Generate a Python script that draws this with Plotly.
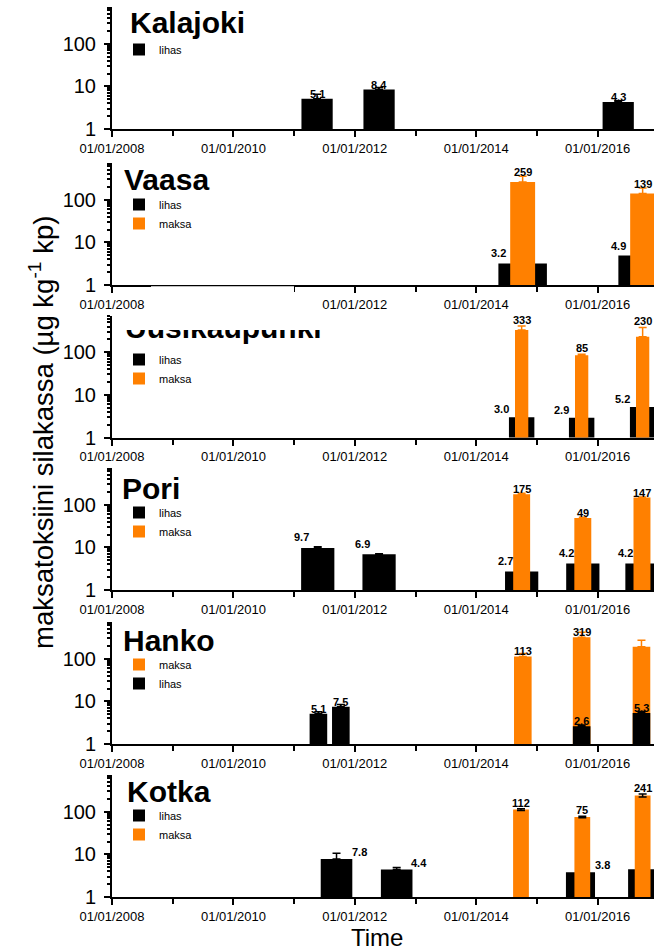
import numpy as np
import pandas as pd
import plotly.graph_objects as go

W, H = 654, 951
BLACK = "#000000"
ORANGE = "#FF8000"
FONT = "Liberation Sans, Arial, sans-serif"

# ------------------------------------------------------------------ data
site_names = ["Kalajoki", "Vaasa", "Uusikaupunki", "Pori", "Hanko", "Kotka"]
x_tick_start = "2008-01-01"

kalajoki_lihas_dates = ["2011-05-19", "2012-05-26", "2016-05-04"]
kalajoki_lihas = [5.1, 8.4, 4.3]
kalajoki_lihas_err = [1.4, 1.0, 0.3]
kalajoki_lihas_labelled = [True, True, True]

vaasa_lihas_dates = ["2014-10-07", "2016-09-28"]
vaasa_lihas = [3.2, 4.9]
vaasa_lihas_err = [0.0, 0.0]
vaasa_lihas_labelled = [True, True]
vaasa_maksa_dates = ["2014-10-07", "2016-09-28"]
vaasa_maksa = [259, 139]
vaasa_maksa_err = [95, 50]
vaasa_maksa_labelled = [True, True]

uusi_lihas_dates = ["2014-10-01", "2015-09-27", "2016-09-28"]
uusi_lihas = [3.0, 2.9, 5.2]
uusi_lihas_err = [0.0, 0.0, 0.0]
uusi_lihas_labelled = [True, True, True]
uusi_maksa_dates = ["2014-10-01", "2015-09-27", "2016-09-28"]
uusi_maksa = [333, 85, 230]
uusi_maksa_err = [80, 4, 150]
uusi_maksa_labelled = [True, True, True]

pori_lihas_dates = ["2011-05-23", "2012-05-26", "2014-10-01", "2015-10-04", "2016-09-24"]
pori_lihas = [9.7, 6.9, 2.7, 4.2, 4.2]
pori_lihas_err = [0.6, 0.2, 0.0, 0.0, 0.0]
pori_lihas_labelled = [True, True, True, True, True]
pori_maksa_dates = ["2014-10-01", "2015-10-04", "2016-09-24"]
pori_maksa = [175, 49, 147]
pori_maksa_err = [10, 2, 5]
pori_maksa_labelled = [True, True, True]

hanko_maksa_dates = ["2014-10-08", "2015-09-27", "2016-09-21"]
hanko_maksa = [113, 319, 190]
hanko_maksa_err = [20, 100, 80]
hanko_maksa_labelled = [True, True, False]
hanko_lihas_dates = ["2011-05-27", "2011-10-09", "2015-09-27", "2016-09-21"]
hanko_lihas = [5.1, 7.5, 2.6, 5.3]
hanko_lihas_err = [0.6, 0.9, 0.2, 0.5]
hanko_lihas_labelled = [True, True, True, True]

kotka_lihas_dates = ["2011-09-13", "2012-09-09", "2015-09-20", "2016-09-28"]
kotka_lihas = [7.8, 4.4, 3.8, 4.5]
kotka_lihas_err = [2.8, 0.5, 0.0, 0.0]
kotka_lihas_labelled = [True, True, True, False]
kotka_maksa_dates = ["2014-09-27", "2015-10-01", "2016-09-28"]
kotka_maksa = [112, 75, 241]
kotka_maksa_err = [5, 3, 20]
kotka_maksa_labelled = [True, True, True]

y_title = "maksatoksiini silakassa (µg kg<sup>-1</sup> kp)"
x_title = "Time"

# ------------------------------------------------------------------ panel structure
panels = [
    [("lihas", kalajoki_lihas_dates, kalajoki_lihas, kalajoki_lihas_err, kalajoki_lihas_labelled)],
    [("lihas", vaasa_lihas_dates, vaasa_lihas, vaasa_lihas_err, vaasa_lihas_labelled),
     ("maksa", vaasa_maksa_dates, vaasa_maksa, vaasa_maksa_err, vaasa_maksa_labelled)],
    [("lihas", uusi_lihas_dates, uusi_lihas, uusi_lihas_err, uusi_lihas_labelled),
     ("maksa", uusi_maksa_dates, uusi_maksa, uusi_maksa_err, uusi_maksa_labelled)],
    [("lihas", pori_lihas_dates, pori_lihas, pori_lihas_err, pori_lihas_labelled),
     ("maksa", pori_maksa_dates, pori_maksa, pori_maksa_err, pori_maksa_labelled)],
    [("maksa", hanko_maksa_dates, hanko_maksa, hanko_maksa_err, hanko_maksa_labelled),
     ("lihas", hanko_lihas_dates, hanko_lihas, hanko_lihas_err, hanko_lihas_labelled)],
    [("lihas", kotka_lihas_dates, kotka_lihas, kotka_lihas_err, kotka_lihas_labelled),
     ("maksa", kotka_maksa_dates, kotka_maksa, kotka_maksa_err, kotka_maksa_labelled)],
]

# ------------------------------------------------------------------ styles / layout
PX_PER_YEAR = 60.7
X0_PX = 112
AXIS_PX = [129, 285, 437.5, 590, 744, 897]     # pixel row of y=1 line
PANEL_H = 122
YTOP = 2.86
LEGEND_CENTER_PX = [50, 205, 360, 513, 665, 816]
LEGEND_LEFT_PX = 119
TITLE_BASE_PX = [35, 192, 341, 500, 652, 803]
TITLE_LEFT_PX = [128, 122, 125, 120, 121, 125]
TITLE_CUT_PX = 330       # Uusikaupunki title is cut above this row in the source image

styles = [
    {"lihas": dict(w=[188], mode="center", ex=0, dy=4.5, cap=False, ecol=BLACK, sym=False)},
    {"lihas": dict(w=[292], mode="left", ex=0, dy=10, cap=False, ecol=BLACK, sym=False),
     "maksa": dict(w=[150], mode="center", ex=0, dy=4, cap=True, ecol=ORANGE, sym=False)},
    {"lihas": dict(w=[153], mode="left", ex=-7, dy=8, cap=False, ecol=BLACK, sym=False),
     "maksa": dict(w=[80], mode="center", ex=0, dy=6, cap=True, ecol=ORANGE, sym=False)},
    {"lihas": dict(w=[200], mode="left", ex=0, dy=10.5, cap=False, ecol=BLACK, sym=False),
     "maksa": dict(w=[102], mode="center", ex=0, dy=5, cap=False, ecol=ORANGE, sym=False)},
    {"maksa": dict(w=[106], mode="center", ex=0, dy=5, cap=False, ecol=ORANGE, sym=False),
     "lihas": dict(w=[106], mode="center", ex=0, dy=5, cap=False, ecol=BLACK, sym=False)},
    {"lihas": dict(w=[190, 190, 175, 175], mode="right", ex=7, dy=7, cap=False, ecol=BLACK, sym=False),
     "maksa": dict(w=[95], mode="center", ex=0, dy=7, cap=False, ecol=BLACK, sym=True)},
]
colors = {"lihas": BLACK, "maksa": ORANGE}

DAY_MS = 86400000
x_start = pd.Timestamp(x_tick_start)
x_end = x_start + pd.Timedelta(days=(W - X0_PX) / PX_PER_YEAR * 365.25)

fig = go.Figure()
annotations = []
layout = dict(
    template="none",
    width=W, height=H, margin=dict(l=0, r=0, t=0, b=0, autoexpand=False),
    paper_bgcolor="white", plot_bgcolor="rgba(0,0,0,0)",
    barmode="overlay", showlegend=True,
    font=dict(family=FONT, color=BLACK),
)

for i, series in enumerate(panels):
    ax = "" if i == 0 else str(i + 1)
    lg = "legend" if i == 0 else f"legend{i + 1}"
    y_bot = 1 - AXIS_PX[i] / H
    y_top = 1 - (AXIS_PX[i] - PANEL_H) / H
    for name, dates, vals, errs, labelled in series:
        st = styles[i][name]
        wd = st["w"] * len(vals) if len(st["w"]) == 1 else st["w"]
        fig.add_trace(go.Bar(
            x=pd.to_datetime(dates), y=vals, width=[w * DAY_MS for w in wd],
            name=name, marker=dict(color=colors[name], line=dict(width=0)),
            error_y=dict(type="data", array=errs,
                         arrayminus=errs if st["sym"] else [0] * len(errs),
                         symmetric=st["sym"], color=st["ecol"], thickness=1.5, width=4),
            xaxis="x" + ax, yaxis="y" + ax, legend=lg, showlegend=True,
        ))
        for dt, v, e, w, lab in zip(dates, vals, errs, wd, labelled):
            if not lab:
                continue
            half = w / 365.25 * PX_PER_YEAR / 2
            if st["mode"] == "left":
                dx = -half + st["ex"]
            elif st["mode"] == "right":
                dx = half + st["ex"]
            else:
                dx = st["ex"]
            anchor = v + e if st["cap"] else v
            txt = f"{v:.1f}" if name == "lihas" else f"{v:.0f}"
            annotations.append(dict(
                x=dt, y=np.log10(anchor), xref="x" + ax, yref="y" + ax,
                text=f"<b>{txt}</b>", showarrow=False, xanchor="center", yanchor="middle",
                xshift=dx, yshift=st["dy"], font=dict(size=11, family=FONT, color=BLACK)))

    layout["xaxis" + ax] = dict(
        type="date", domain=[X0_PX / W, 1], anchor="y" + ax, automargin=False,
        range=[x_start, x_end], tick0=x_tick_start, dtick="M24", tickformat="%d/%m/%Y",
        ticks="outside", ticklen=6, tickwidth=2, tickcolor=BLACK,
        minor=dict(dtick="M12", tick0=x_tick_start, ticks="outside", ticklen=5, tickwidth=2,
                   tickcolor=BLACK, showgrid=False),
        showline=True, linewidth=2, linecolor=BLACK, showgrid=False, zeroline=False,
        tickfont=dict(size=13, family=FONT, color=BLACK), fixedrange=True,
    )
    layout["yaxis" + ax] = dict(
        type="log", domain=[y_bot, y_top], anchor="x" + ax, range=[0, YTOP], automargin=False,
        tickmode="array", tickvals=[1, 10, 100], ticktext=["1", "10", "100"],
        ticks="outside", ticklen=6, tickwidth=2, tickcolor=BLACK, ticklabelstandoff=4,
        minor=dict(dtick="D1", ticks="outside", ticklen=3, tickwidth=1.5, tickcolor=BLACK,
                   showgrid=False),
        showline=True, linewidth=2, linecolor=BLACK, showgrid=False, zeroline=False,
        tickfont=dict(size=20, family=FONT, color=BLACK), fixedrange=True,
    )
    layout[lg] = dict(
        x=LEGEND_LEFT_PX / W, y=1 - (LEGEND_CENTER_PX[i] - 15) / H,
        xanchor="left", yanchor="top", bgcolor="rgba(0,0,0,0)", borderwidth=0,
        font=dict(size=11, family=FONT, color=BLACK), tracegroupgap=0,
        itemclick=False, itemdoubleclick=False,
    )
    if site_names[i] != "Uusikaupunki":
        annotations.append(dict(
            x=TITLE_LEFT_PX[i] / W, y=1 - (TITLE_BASE_PX[i] - 12) / H, xref="paper", yref="paper",
            text=f"<b>{site_names[i]}</b>", showarrow=False, xanchor="left", yanchor="middle",
            font=dict(size=30, family=FONT, color=BLACK)))

# Uusikaupunki title: its top is cut off in the source image, so it is drawn as a
# text trace in a small hidden subplot whose top edge clips it
k = site_names.index("Uusikaupunki")
cut_bottom_px = TITLE_CUT_PX + 30
fig.add_trace(go.Scatter(
    x=[0], y=[(cut_bottom_px - (TITLE_BASE_PX[k] - 10.5)) / 30], mode="text",
    text=[f"<b>{site_names[k]}</b>"], textposition="middle right",
    textfont=dict(size=30, family=FONT, color=BLACK), cliponaxis=True,
    xaxis="x7", yaxis="y7", showlegend=False, hoverinfo="skip",
))
layout["xaxis7"] = dict(domain=[TITLE_LEFT_PX[k] / W, 360 / W], range=[0, 1], visible=False,
                        anchor="y7", fixedrange=True, automargin=False)
layout["yaxis7"] = dict(domain=[1 - cut_bottom_px / H, 1 - TITLE_CUT_PX / H], range=[0, 1],
                        visible=False, anchor="x7", fixedrange=True, automargin=False)

annotations.append(dict(
    x=41 / W, y=1 - 433 / H, xref="paper", yref="paper", text=y_title, textangle=-90,
    showarrow=False, xanchor="center", yanchor="middle",
    font=dict(size=27.5, family=FONT, color=BLACK)))
annotations.append(dict(
    x=377 / W, y=1 - 937 / H, xref="paper", yref="paper", text=x_title,
    showarrow=False, xanchor="center", yanchor="middle",
    font=dict(size=24, family=FONT, color=BLACK)))

# broken axis segment in the Vaasa panel, as in the source image
shapes = [dict(type="rect", xref="paper", yref="paper", layer="above",
               x0=151 / W, x1=294 / W, y0=1 - (AXIS_PX[1] + 29) / H, y1=1 - (AXIS_PX[1] + 1.2) / H,
               fillcolor="white", line=dict(width=0))]

layout["annotations"] = annotations
layout["shapes"] = shapes
fig.update_layout(**layout)
fig.write_html("out.html")
